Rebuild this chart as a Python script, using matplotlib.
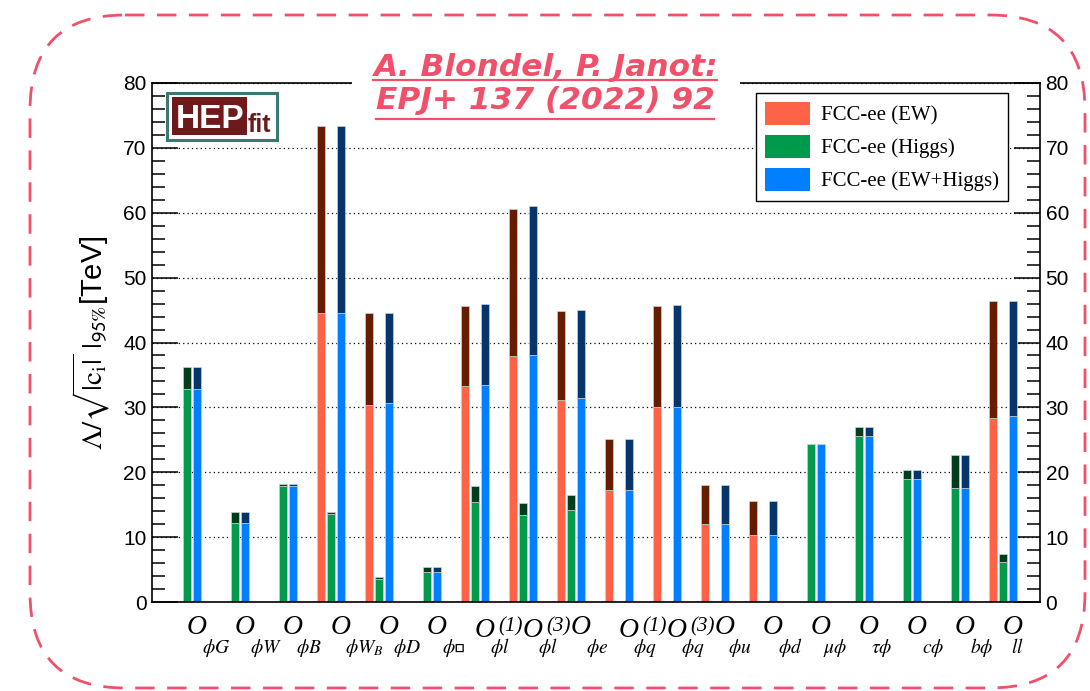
import numpy as np
import matplotlib
matplotlib.use("Agg")
import matplotlib.pyplot as plt
from matplotlib.patches import Patch, FancyBboxPatch, Rectangle
from matplotlib.lines import Line2D
from matplotlib.ticker import MultipleLocator

plt.rcParams['font.family'] = ['Liberation Sans', 'DejaVu Sans']
plt.rcParams['mathtext.fontset'] = 'stix'

# operators: subscript / superscript of each O
op_sub = [r'$\phi G$', r'$\phi W$', r'$\phi B$', r'$\phi W_B$', r'$\phi D$',
          '$\\phi\u25ab$', r'$\phi l$', r'$\phi l$', r'$\phi e$', r'$\phi q$',
          r'$\phi q$', r'$\phi u$', r'$\phi d$', r'$\mu\phi$', r'$\tau\phi$',
          r'$c\phi$', r'$b\phi$', r'$ll$']
op_sup = ['', '', '', '', '', '', '(1)', '(3)', '', '(1)', '(3)', '', '', '', '', '', '', '']

# bound values (TeV): light part = base, dark cap up to total
ew_base = [0, 0, 0, 44.5, 30.3, 0, 33.3, 37.9, 31.2, 17.3, 30.0, 12.1, 10.4, 0, 0, 0, 0, 28.4]
ew_total = [0, 0, 0, 73.3, 44.5, 0, 45.6, 60.6, 44.8, 25.1, 45.7, 18.1, 15.6, 0, 0, 0, 0, 46.4]
higgs_base = [32.8, 12.2, 17.9, 13.5, 3.5, 4.6, 15.4, 13.4, 14.2, 0, 0, 0, 0, 24.3, 25.6, 19.0, 17.5, 6.1]
higgs_total = [36.3, 13.8, 18.2, 13.9, 3.9, 5.4, 17.9, 15.3, 16.5, 0, 0, 0, 0, 24.3, 27.0, 20.3, 22.6, 7.4]
comb_base = [32.8, 12.2, 17.9, 44.6, 30.7, 4.6, 33.4, 38.1, 31.4, 17.3, 30.0, 12.1, 10.4, 24.3, 25.6, 19.0, 17.5, 28.7]
comb_total = [36.3, 13.8, 18.2, 73.3, 44.5, 5.4, 45.9, 61.0, 45.0, 25.2, 45.8, 18.1, 15.6, 24.3, 27.0, 20.3, 22.6, 46.4]

legend_labels = ['FCC-ee (EW)', 'FCC-ee (Higgs)', 'FCC-ee (EW+Higgs)']

W, H = 1090, 691
pink = '#f0506a'


def fx(x):
    return x / W


def fy(y):
    return 1 - y / H


fig = plt.figure(figsize=(W / 100, H / 100), dpi=100)

# dashed rounded frame around everything
bg = fig.add_axes([0, 0, 1, 1], zorder=-10)
bg.set_xlim(0, W)
bg.set_ylim(H, 0)
bg.axis('off')
bg.add_patch(FancyBboxPatch((30, 15), 1055, 673, boxstyle='round,pad=0,rounding_size=95',
                            fill=False, ec=pink, lw=2, ls=(0, (7, 4.5))))

ax = fig.add_axes([fx(152), fy(602), (1040 - 152) / W, (602 - 83) / H])
ax.set_xlim(-0.729, 17.771)
ax.set_ylim(0, 80)

x = np.arange(len(op_sub))
w = 0.167
off = 0.213
edge = '#c6d2de'
series = [
    (-off, ew_base, ew_total, '#ff6347', '#661c00'),
    (0.0, higgs_base, higgs_total, '#009a4d', '#003d1c'),
    (off, comb_base, comb_total, '#0080ff', '#05356b'),
]
for dx, base, total, c_light, c_dark in series:
    base = np.array(base, float)
    total = np.array(total, float)
    m = total > 0
    ax.bar(x[m] + dx, base[m], w, color=c_light, ec=edge, lw=0.5, zorder=2)
    cap = total - base
    mc = cap > 0
    ax.bar(x[mc] + dx, cap[mc], w, bottom=base[mc], color=c_dark, ec=edge, lw=0.5, zorder=2)

ax.yaxis.set_major_locator(MultipleLocator(10))
ax.yaxis.set_minor_locator(MultipleLocator(2))
ax.tick_params(axis='y', which='both', direction='in', left=True, right=True,
               labelleft=True, labelright=True, labelsize=15, width=1.1, pad=4)
ax.tick_params(axis='y', which='major', length=19)
ax.tick_params(axis='y', which='minor', length=9.5)
ax.tick_params(axis='x', bottom=False, labelbottom=False)
ax.yaxis.grid(True, which='major', ls=(0, (1, 2.5)), color='black', lw=0.9)
ax.set_axisbelow(True)
for s in ax.spines.values():
    s.set_linewidth(1.2)

ax.set_ylabel(r'$\Lambda/\sqrt{|\mathrm{c}_\mathrm{i}|}\ |_{\mathsf{95\%}}$[TeV]', fontsize=21)
ax.yaxis.set_label_coords((112 - 152) / 888, 0.5)

# x labels: O with sub/superscripts
serif = ['Liberation Serif', 'DejaVu Serif']
sub_dx = [15, 15, 13, 14, 14, 15, 15, 15, 15, 14, 14, 13, 15, 12, 12, 15, 15, 8]
for i in range(len(op_sub)):
    has_sup = op_sup[i] != ''
    oy = -35 if has_sup else -32
    ax.annotate('O', xy=(i, 0), xytext=(0, oy * 0.72), textcoords='offset points',
                ha='left', va='baseline', fontsize=20, family=serif, style='italic',
                annotation_clip=False)
    ax.annotate(op_sub[i], xy=(i, 0), xytext=(sub_dx[i] * 0.72, -51 * 0.72),
                textcoords='offset points', ha='left', va='baseline', fontsize=14,
                annotation_clip=False)
    if has_sup:
        ax.annotate(op_sup[i], xy=(i, 0), xytext=(23 * 0.72, -29 * 0.72),
                    textcoords='offset points', ha='left', va='baseline', fontsize=15,
                    family=serif, style='italic', annotation_clip=False)

handles = [Patch(fc=s[3]) for s in series]
leg = ax.legend(handles, legend_labels, loc='upper right',
                bbox_to_anchor=((1008 - 152) / 888, (602 - 93) / 519), borderaxespad=0,
                prop={'family': 'Liberation Serif', 'size': 15}, handlelength=2.16,
                handleheight=1.3, labelspacing=0.45, handletextpad=0.5, borderpad=0.45,
                fancybox=False, framealpha=1, edgecolor='black')
leg.get_frame().set_linewidth(1.0)
leg.set_zorder(5)

# title box over the top frame
fig.add_artist(Rectangle((fx(352), fy(95)), (740 - 352) / W, 25 / H, transform=fig.transFigure,
                         fc='white', ec='none', zorder=5))
t1 = fig.text(fx(545), fy(76), 'A. Blondel, P. Janot:', ha='center', va='baseline', fontsize=22.5,
              color=pink, style='italic', weight='bold', family='DejaVu Sans', zorder=10)
t2 = fig.text(fx(545), fy(109), 'EPJ+ 137 (2022) 92', ha='center', va='baseline', fontsize=22.5,
              color=pink, style='italic', weight='bold', family='DejaVu Sans', zorder=10)

# HEPfit logo
fig.add_artist(Rectangle((fx(166.5), fy(139.5)), 110 / W, 46 / H, transform=fig.transFigure,
                         fc='white', ec='#3a7a70', lw=2.2, zorder=6))
fig.add_artist(Rectangle((fx(172), fy(135)), 75 / W, 38 / H, transform=fig.transFigure,
                         fc='#6e1a1a', ec='none', zorder=7))
fig.text(fx(210), fy(128), 'HEP', ha='center', va='baseline', fontsize=24, weight='bold',
         color='white', zorder=8)
fig.text(fx(259), fy(132), 'fit', ha='center', va='baseline', fontsize=18, weight='bold',
         color='#6e1a1a', zorder=8)

# underline the title lines
fig.canvas.draw()
for t, yu in [(t1, 80), (t2, 119)]:
    bb = t.get_window_extent()
    fig.add_artist(Line2D([bb.x0 / W, bb.x1 / W], [fy(yu), fy(yu)], transform=fig.transFigure,
                          color=pink, lw=1.6, zorder=10))

fig.savefig('out.png', dpi=100)
